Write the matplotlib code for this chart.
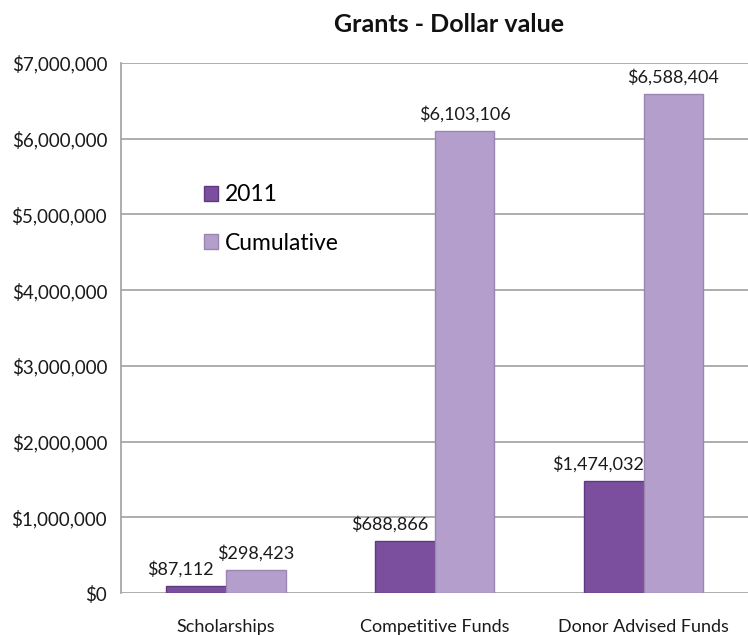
import matplotlib.pyplot as plt
import numpy as np
from matplotlib.ticker import FuncFormatter

categories = ["Scholarships", "Competitive Funds", "Donor Advised Funds"]
values_2011 = [87112, 688866, 1474032]
values_cumulative = [298423, 6103106, 6588404]
series_names = ["2011", "Cumulative"]

plt.rcParams["font.family"] = ["Lato", "DejaVu Sans"]

fig = plt.figure(figsize=(7.48, 6.35), dpi=100)
ax = fig.add_axes([0.1618, 0.0661, 0.8382, 0.8347])

x = np.arange(len(categories))
width = 0.287
dark = "#7b4f9d"
light = "#b49fcc"

bars1 = ax.bar(x - width / 2, values_2011, width, color=dark,
               edgecolor="#5e3a80", linewidth=1.0, label=series_names[0], zorder=3)
bars2 = ax.bar(x + width / 2, values_cumulative, width, color=light,
               edgecolor="#9a86b0", linewidth=1.0, label=series_names[1], zorder=3)

for bar, v in zip(bars1, values_2011):
    ax.annotate(f"${v:,.0f}", (bar.get_x() + bar.get_width() / 2, v),
                xytext=(-11, 6), textcoords="offset points",
                ha="center", va="bottom", fontsize=13, color="#1a1a1a")
for bar, v in zip(bars2, values_cumulative):
    ax.annotate(f"${v:,.0f}", (bar.get_x() + bar.get_width() / 2, v),
                xytext=(0, 6), textcoords="offset points",
                ha="center", va="bottom", fontsize=13, color="#1a1a1a")

ax.set_xlim(-0.5, 2.5)
ax.set_ylim(0, 7000000)
ax.set_yticks(np.arange(0, 7000001, 1000000))
ax.yaxis.set_major_formatter(FuncFormatter(lambda v, p: f"${v:,.0f}"))
ax.set_xticks(x)
ax.set_xticklabels(categories)
ax.tick_params(axis="both", length=0, labelsize=13.5, colors="#1a1a1a")
ax.tick_params(axis="y", pad=10)
ax.tick_params(axis="x", labelsize=13, pad=19)

ax.yaxis.grid(True, color="#a0a0a0", linewidth=1.2, zorder=0)
ax.set_axisbelow(True)
for name in ["top", "right", "bottom"]:
    ax.spines[name].set_visible(False)
ax.spines["left"].set_color("#a0a0a0")
ax.spines["left"].set_linewidth(1.2)

fig.text(0.6, 0.962, "Grants - Dollar value", ha="center", va="center",
         fontsize=18, fontweight="bold", color="#111111")

ax.legend(loc="upper left", bbox_to_anchor=(0.1, 0.81), frameon=False,
          fontsize=16.5, handlelength=0.6, handleheight=0.6, handletextpad=0.3,
          labelspacing=1.2)

plt.savefig("out.png", dpi=100)
plt.close()
